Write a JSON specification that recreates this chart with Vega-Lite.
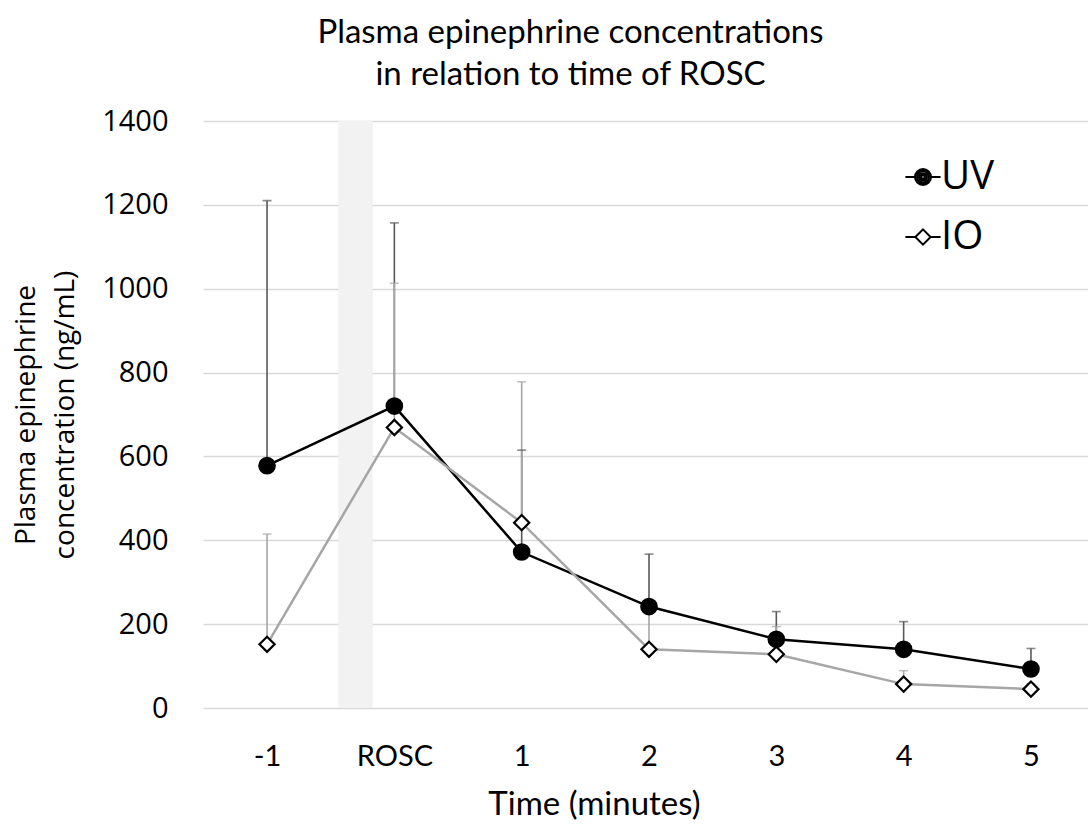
{
  "$schema": "https://vega.github.io/schema/vega-lite/v6.json",
  "width": 885,
  "height": 587,
  "autosize": {"type": "none"},
  "padding": {"left": 203, "top": 121, "right": 0, "bottom": 122},
  "background": "white",
  "title": {
    "text": ["Plasma epinephrine concentrations", "in relation to time of ROSC"],
    "anchor": "middle",
    "frame": "group",
    "dx": -75,
    "offset": 15,
    "font": "Lato",
    "fontSize": 33,
    "fontWeight": "normal",
    "lineHeight": 42,
    "color": "#000"
  },
  "datasets": {
    "band": [{"band_start": -0.44, "band_end": -0.17}],
    "conc": [
      {"series": "UV", "time": -1, "value": 578, "upper": 1210},
      {"series": "UV", "time": 0, "value": 720, "upper": 1157},
      {"series": "UV", "time": 1, "value": 372, "upper": 615},
      {"series": "UV", "time": 2, "value": 242, "upper": 367},
      {"series": "UV", "time": 3, "value": 164, "upper": 230},
      {"series": "UV", "time": 4, "value": 140, "upper": 206},
      {"series": "UV", "time": 5, "value": 93, "upper": 142},
      {"series": "IO", "time": -1, "value": 152, "upper": 415},
      {"series": "IO", "time": 0, "value": 669, "upper": 1013},
      {"series": "IO", "time": 1, "value": 442, "upper": 778},
      {"series": "IO", "time": 2, "value": 140, "upper": 235},
      {"series": "IO", "time": 3, "value": 128, "upper": 194},
      {"series": "IO", "time": 4, "value": 57, "upper": 89},
      {"series": "IO", "time": 5, "value": 45, "upper": 58}
    ]
  },
  "config": {
    "view": {"stroke": null},
    "axis": {"domain": false, "ticks": false, "labelColor": "#000", "titleColor": "#000", "titleFontWeight": "normal"}
  },
  "layer": [
    {
      "data": {"name": "band"},
      "mark": {"type": "rect", "color": "#f2f2f2"},
      "encoding": {
        "x": {"field": "band_start", "type": "quantitative", "scale": {"domain": [-1.503, 5.448], "nice": false, "zero": false}},
        "x2": {"field": "band_end"}
      }
    },
    {
      "data": {"name": "conc"},
      "mark": {"type": "rule", "strokeWidth": 1.6},
      "encoding": {
        "x": {
          "field": "time", "type": "quantitative",
          "scale": {"domain": [-1.503, 5.448], "nice": false, "zero": false},
          "axis": {
            "values": [-1, 0, 1, 2, 3, 4, 5],
            "labelExpr": "datum.value === 0 ? 'ROSC' : (datum.value < 0 ? '-' + abs(datum.value) : '' + datum.value)",
            "grid": false,
            "labelFont": "Lato", "labelFontSize": 29, "labelPadding": 34,
            "title": "Time (minutes)", "titleFont": "Lato", "titleFontSize": 33, "titlePadding": 17,
            "titleX": 391
          }
        },
        "y": {
          "field": "value", "type": "quantitative",
          "scale": {"domain": [0, 1400], "nice": false},
          "axis": {
            "values": [0, 200, 400, 600, 800, 1000, 1200, 1400],
            "format": "d",
            "grid": true, "gridColor": "#d9d9d9", "gridWidth": 1.3,
            "labelFont": "Open Sans", "labelFontSize": 29, "labelPadding": 35,
            "title": ["Plasma epinephrine", "concentration (ng/mL)"],
            "titleFont": "Open Sans", "titleFontSize": 28, "titlePadding": 22, "titleLineHeight": 39
          }
        },
        "y2": {"field": "upper"},
        "color": {"condition": {"test": "datum.series === 'UV'", "value": "#595959"}, "value": "#a6a6a6"}
      }
    },
    {
      "data": {"name": "conc"},
      "mark": {"type": "tick", "orient": "horizontal", "size": 9, "thickness": 1.6},
      "encoding": {
        "x": {"field": "time", "type": "quantitative"},
        "y": {"field": "upper", "type": "quantitative"},
        "color": {"condition": {"test": "datum.series === 'UV'", "value": "#595959"}, "value": "#a6a6a6"}
      }
    },
    {
      "data": {"name": "conc"},
      "mark": {"type": "line", "strokeWidth": 2.5},
      "encoding": {
        "x": {"field": "time", "type": "quantitative"},
        "y": {"field": "value", "type": "quantitative"},
        "detail": {"field": "series"},
        "color": {"condition": {"test": "datum.series === 'UV'", "value": "#000000"}, "value": "#a6a6a6"}
      }
    },
    {
      "data": {"name": "conc"},
      "mark": {"type": "point", "filled": false, "strokeWidth": 2.2, "opacity": 1},
      "encoding": {
        "x": {"field": "time", "type": "quantitative"},
        "y": {"field": "value", "type": "quantitative"},
        "shape": {"condition": {"test": "datum.series === 'UV'", "value": "circle"}, "value": "diamond"},
        "size": {"condition": {"test": "datum.series === 'UV'", "value": 240}, "value": 230},
        "fill": {"condition": {"test": "datum.series === 'UV'", "value": "#000000"}, "value": "#ffffff"},
        "stroke": {"value": "#000000"}
      }
    },
    {
      "data": {"name": "conc"},
      "mark": {"type": "point", "size": 0, "filled": false, "opacity": 1, "color": "#000000", "strokeWidth": 2},
      "encoding": {
        "x": {"field": "time", "type": "quantitative"},
        "y": {"field": "value", "type": "quantitative"},
        "shape": {
          "field": "series", "type": "nominal",
          "scale": {
            "domain": ["UV", "IO"],
            "range": [
              "M-2.2,0L-1,0M1,0L2.2,0M-1,0A1,1 0 1,0 1,0A1,1 0 1,0 -1,0ZM-0.74,0A0.74,0.74 0 1,0 0.74,0A0.74,0.74 0 1,0 -0.74,0ZM-0.48,0A0.48,0.48 0 1,0 0.48,0A0.48,0.48 0 1,0 -0.48,0ZM-0.22,0A0.22,0.22 0 1,0 0.22,0A0.22,0.22 0 1,0 -0.22,0Z",
              "M-2.2,0L-0.95,0M0.95,0L2.2,0M0,-0.95L0.95,0L0,0.95L-0.95,0Z"
            ]
          },
          "legend": {
            "title": null,
            "orient": "none",
            "legendX": 700,
            "legendY": 36,
            "symbolSize": 256,
            "symbolStrokeWidth": 2,
            "labelFont": "Open Sans",
            "labelFontSize": 40,
            "labelColor": "#000",
            "labelOffset": -2,
            "rowPadding": 20,
            "encode": {
              "symbols": {
                "fill": {"condition": {"test": "datum.value === 'UV'", "value": "#000000"}, "value": "#ffffff"},
                "stroke": {"value": "#000000"},
                "strokeWidth": {"value": 2},
                "opacity": {"value": 1}
              }
            }
          }
        }
      }
    }
  ]
}
